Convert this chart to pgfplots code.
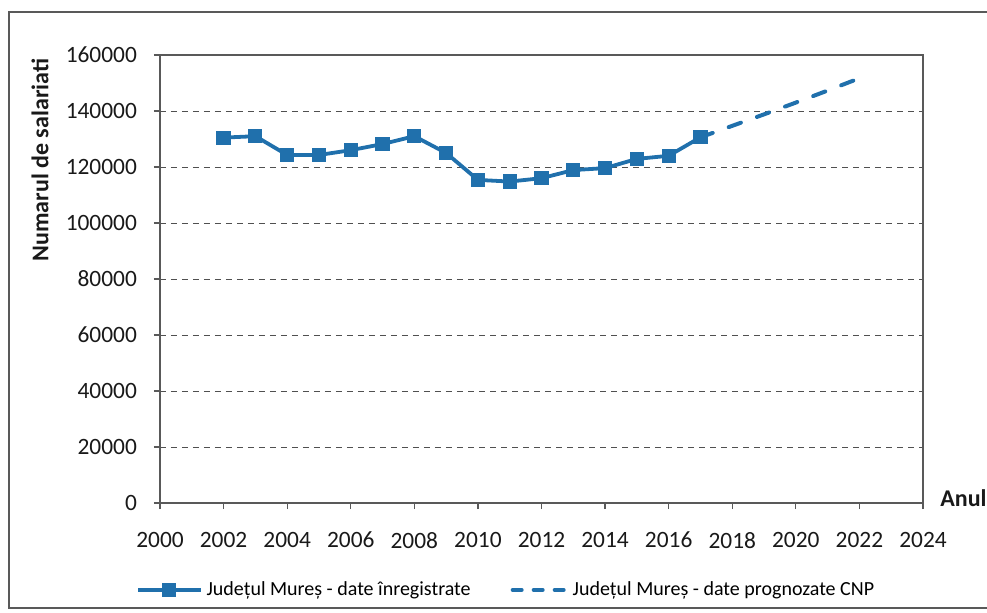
\documentclass[border=0pt]{standalone}
\usepackage{fontspec}
\setmainfont{Carlito}
\usepackage{pgfplots}
\pgfplotsset{compat=1.18}
\definecolor{serblue}{RGB}{32,112,172}
\definecolor{gridc}{RGB}{80,80,80}
\pgfplotsset{
  legA/.style={legend image code/.code={\draw[mark repeat=2,mark phase=2,##1] plot coordinates {(0cm,0cm) (0.55cm,0cm) (1.1cm,0cm)};}},
  legB/.style={legend image code/.code={\draw[##1, dash pattern=on 4.5pt off 6pt] (0cm,0cm) -- (0.95cm,0cm);}},
}
\begin{document}
\begin{tikzpicture}
\useasboundingbox (-80pt,-54.5pt) rectangle (413.5pt,251.5pt);
\clip (-80pt,-54.5pt) rectangle (413.5pt,251.5pt);
\draw[gray!70!black, line width=0.8pt] (-75.5pt,-52.5pt) rectangle (430pt,245.5pt);
\begin{axis}[
  scale only axis,
  width=381.5pt, height=224pt,
  xmin=2000, xmax=2024, ymin=0, ymax=160000,
  xtick={2000,2002,...,2024},
  ytick={0,20000,...,160000},
  tick pos=left,
  tick align=outside,
  major tick length=3pt,
  tick style={gray!70!black, line width=0.6pt},
  axis line style={gray!70!black, line width=0.6pt},
  ymajorgrids,
  grid style={gridc, line width=0.5pt, dash pattern=on 3pt off 2.5pt},
  scaled y ticks=false,
  /pgf/number format/fixed,
  /pgf/number format/precision=0,
  /pgf/number format/1000 sep={},
  /pgf/number format/assume math mode=true,
  ticklabel style={font=\fontsize{11.7}{14}\selectfont, text=black!90},
  xticklabel style={yshift=-8pt},
  yticklabel style={xshift=-5pt},
  legend columns=2,
  legend style={at={(0.455,-0.194)}, anchor=center, draw=none, fill=none,
    font=\fontsize{10}{12}\selectfont, /tikz/every even column/.append style={column sep=18pt}},
]
\addplot[serblue, line width=1.9pt, mark=square*, mark size=2.6pt,
  mark options={solid}, legA]
coordinates {
(2002,130500) (2003,131000) (2004,124300) (2005,124300) (2006,126000)
(2007,128200) (2008,131000) (2009,125000) (2010,115400) (2011,114800)
(2012,116000) (2013,118900) (2014,119600) (2015,122900) (2016,124000)
(2017,130600)
};
\addlegendentry{Județul Mureș - date înregistrate}
\addplot[serblue, line width=2pt, line cap=round, dash pattern=on 6.5pt off 8.5pt, legB]
coordinates {
(2017,130600) (2018,134700) (2019,138800) (2020,143000) (2021,147300) (2022,151700)
};
\addlegendentry{Județul Mureș - date prognozate CNP}
\end{axis}
\node[rotate=90, font=\bfseries\fontsize{12}{14}\selectfont, text=black!90] at (-60pt,171.5pt) {Numarul de salariati};
\node[anchor=west, font=\bfseries\fontsize{12}{14}\selectfont, text=black!90, inner sep=0pt] at (390pt,2.5pt) {Anul};
\end{tikzpicture}
\end{document}
